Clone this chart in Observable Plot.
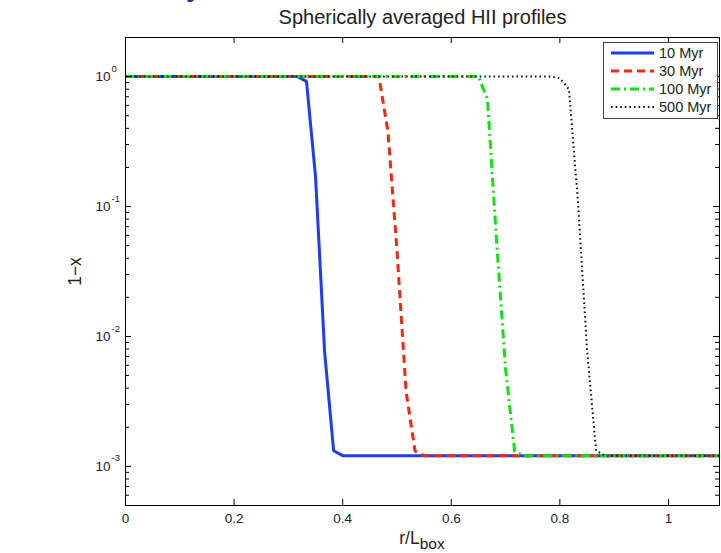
<!DOCTYPE html>
<html>
<head>
<meta charset="utf-8">
<script src="https://cdn.jsdelivr.net/npm/d3@7"></script>
<script src="https://cdn.jsdelivr.net/npm/@observablehq/plot@0.6"></script>
<style>
  html, body { margin: 0; padding: 0; background: #fff; }
  #chart { position: relative; width: 721px; height: 553px; overflow: hidden;
           font-family: "Liberation Sans", Arial, Helvetica, sans-serif; }
  #chart svg { position: absolute; left: 0; top: 0; }
  #frag { position: absolute; left: 186px; top: -27px; font: bold 28px "Liberation Sans", Arial, sans-serif;
          color: #2a2aa8; line-height: 28px; }
</style>
</head>
<body>
<div id="chart"><div id="frag">y</div></div>
<script>
// Spherically averaged neutral fraction 1 - x versus radius r / L_box, one profile per epoch
const r10  = [0, 0.3167, 0.3333, 0.35, 0.3667, 0.3833, 0.40, 1.094];
const v10  = [1, 1, 0.92, 0.17, 0.0076, 0.00132, 0.00121, 0.00121];

const r30  = [0, 0.4667, 0.4833, 0.50, 0.5167, 0.5333, 0.55, 1.094];
const v30  = [1, 1, 0.38, 0.046, 0.0038, 0.00131, 0.00121, 0.00121];

const r100 = [0, 0.65, 0.6667, 0.6833, 0.70, 0.7167, 0.7333, 1.094];
const v100 = [1, 1, 0.67, 0.055, 0.0056, 0.00131, 0.00121, 0.00121];

const r500 = [0, 0.7833, 0.80, 0.8167, 0.8333, 0.85, 0.8667, 0.8833, 1.094];
const v500 = [1, 1, 0.97, 0.8, 0.11, 0.008, 0.00132, 0.00121, 0.00121];

const seriesNames  = ["10 Myr", "30 Myr", "100 Myr", "500 Myr"];
const seriesR      = [r10, r30, r100, r500];
const seriesV      = [v10, v30, v100, v500];
const seriesColors = ["#1f3cf2", "#f22a10", "#12e012", "#111111"];
const seriesDash   = ["none", "8,5", "9,4,2,4", "1.6,3"];
const seriesWidth  = [3, 3, 3, 2];

const xTicks          = [0, 0.2, 0.4, 0.6, 0.8, 1];
const xTickLabels     = ["0", "0.2", "0.4", "0.6", "0.8", "1"];
const yTicks          = [1, 0.1, 0.01, 0.001];
const yTickExponents  = ["0", "-1", "-2", "-3"];
const xDomain = [0, 1.094];
const yDomain = [5e-4, 2];

// minor log ticks 2..9 x 10^k inside the y domain
const yMinorTicks = [];
for (let k = -4; k <= 0; k++) {
  for (let m = 2; m <= 9; m++) {
    const v = m * Math.pow(10, k);
    if (v >= yDomain[0] * 0.999 && v <= yDomain[1] * 1.001) yMinorTicks.push(v);
  }
}

const rows = seriesNames.flatMap((name, i) =>
  seriesR[i].map((r, j) => ({ name, r, v: seriesV[i][j] })));

const W = 721, H = 553, mL = 125, mR = 2, mT = 37, mB = 48;
const pw = W - mL - mR, ph = H - mT - mB;
const textColor = "#222";

const marks = [];
seriesNames.forEach((name, i) => {
  marks.push(Plot.line(rows.filter(d => d.name === name), {
    x: "r", y: "v",
    stroke: seriesColors[i], strokeWidth: seriesWidth[i],
    strokeDasharray: seriesDash[i], strokeLinecap: "butt", strokeLinejoin: "miter"
  }));
});

// box with inward ticks on all four sides
marks.push(
  Plot.tickX(xTicks, { x: d => d, insetTop: ph - 6, stroke: "#000" }),
  Plot.tickX(xTicks, { x: d => d, insetBottom: ph - 6, stroke: "#000" }),
  Plot.tickY(yTicks, { y: d => d, insetRight: pw - 6, stroke: "#000" }),
  Plot.tickY(yTicks, { y: d => d, insetLeft: pw - 6, stroke: "#000" }),
  Plot.tickY(yMinorTicks, { y: d => d, insetRight: pw - 4, stroke: "#000" }),
  Plot.tickY(yMinorTicks, { y: d => d, insetLeft: pw - 4, stroke: "#000" }),
  Plot.frame({ stroke: "#000", strokeWidth: 1 })
);

// tick labels
marks.push(
  Plot.text(xTicks, { x: d => d, text: (d, i) => xTickLabels[i], frameAnchor: "bottom",
                      lineAnchor: "middle", dy: 13, fontSize: 13.5, fill: textColor }),
  Plot.text(yTicks, { y: d => d, text: () => "10", frameAnchor: "left", textAnchor: "start",
                      lineAnchor: "middle", dx: -30, fontSize: 13.5, fill: textColor }),
  Plot.text(yTicks, { y: d => d, text: (d, i) => yTickExponents[i], frameAnchor: "left",
                      textAnchor: "start", lineAnchor: "middle", dx: -14, dy: -8,
                      fontSize: 9.5, fill: textColor })
);

// title and y label
marks.push(
  Plot.text(["Spherically averaged HII profiles"], { text: d => d, frameAnchor: "top",
            lineAnchor: "middle", dy: -20, fontSize: 20, fill: textColor }),
  Plot.text(["1\u2212x"], { text: d => d, frameAnchor: "left", textAnchor: "middle",
            lineAnchor: "middle", dx: -50, rotate: -90, fontSize: 17.5, fill: textColor })
);

const plot = Plot.plot({
  width: W, height: H,
  marginLeft: mL, marginRight: mR, marginTop: mT, marginBottom: mB,
  x: { domain: xDomain, axis: null },
  y: { type: "log", domain: yDomain, axis: null },
  style: { fontFamily: "Liberation Sans, Arial, Helvetica, sans-serif", background: "transparent",
           overflow: "visible" },
  marks
});
document.getElementById("chart").appendChild(plot);

// x label with subscript
const svg = d3.select(plot);
const xl = svg.append("text")
  .attr("x", mL + pw / 2).attr("y", H - 9)
  .attr("text-anchor", "middle")
  .attr("font-size", 17.5).attr("fill", textColor)
  .attr("font-family", "Liberation Sans, Arial, sans-serif");
xl.append("tspan").text("r/L");
xl.append("tspan").attr("dy", 5).attr("font-size", 15.5).text("box");

// legend
const lg = d3.select("#chart").append("svg")
  .attr("width", W).attr("height", H)
  .style("pointer-events", "none");
const lx = 603, ly = 42, lw = 114, lh = 76;
lg.append("rect").attr("x", lx + 0.5).attr("y", ly + 0.5).attr("width", lw).attr("height", lh)
  .attr("fill", "#fff").attr("stroke", "#444").attr("stroke-width", 1);
seriesNames.forEach((name, i) => {
  const y = ly + 11 + i * 18;
  lg.append("line").attr("x1", lx + 8).attr("x2", lx + 51).attr("y1", y).attr("y2", y)
    .attr("stroke", seriesColors[i]).attr("stroke-width", seriesWidth[i])
    .attr("stroke-dasharray", seriesDash[i]);
  lg.append("text").attr("x", lx + 56).attr("y", y).attr("dy", "0.35em")
    .attr("font-size", 14.5).attr("fill", textColor)
    .attr("font-family", "Liberation Sans, Arial, sans-serif").text(name);
});
</script>
</body>
</html>
